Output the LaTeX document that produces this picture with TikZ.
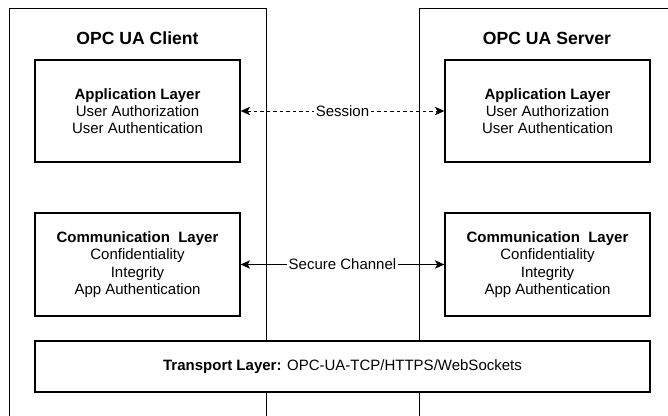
\documentclass[tikz,border=0pt]{standalone}
\usepackage{fontspec}
\setmainfont{Liberation Sans}
\usetikzlibrary{arrows.meta}

\tikzset{
  container/.style={draw=black, line width=0.9pt, anchor=north west, inner sep=0pt},
  layerbox/.style={draw=black, line width=1.3pt, fill=white, inner sep=0pt, align=center,
    font=\fontsize{15}{17.3}\selectfont},
  title/.style={font=\bfseries\fontsize{17.6}{20}\selectfont, inner sep=0pt},
  tip/.style={Stealth[length=9.5pt,width=8.5pt,inset=2.5pt]},
  link/.style={line width=1pt, {Stealth[length=9.5pt,width=8.5pt,inset=2.5pt]}-{Stealth[length=9.5pt,width=8.5pt,inset=2.5pt]}},
  linklabel/.style={fill=white, inner sep=1.5pt, font=\fontsize{15}{17}\selectfont},
}

\begin{document}
\begin{tikzpicture}[x=1pt, y=-1pt]
  \clip (0,0) rectangle (668,415);
  \fill[white] (0,0) rectangle (668,415);

  % outer client / server frames (they run past the lower edge)
  \node[container, minimum width=257pt, minimum height=440pt] (client) at (9,8) {};
  \node[container, minimum width=257pt, minimum height=440pt] (server) at (419,8) {};

  \node[title] (clienttitle) at (137.5,38.5) {OPC UA Client};
  \node[title] (servertitle) at (547,38.5) {OPC UA Server};

  % application layers
  \node[layerbox, minimum width=205pt, minimum height=102pt] (capp) at (137.5,111)
    {\textbf{Application Layer}\\User Authorization\\User Authentication};
  \node[layerbox, minimum width=205pt, minimum height=102pt] (sapp) at (547.5,111)
    {\textbf{Application Layer}\\User Authorization\\User Authentication};

  % communication layers
  \node[layerbox, minimum width=205pt, minimum height=103pt] (ccom) at (137.5,264.5)
    {\textbf{Communication\ \ Layer}\\Confidentiality\\Integrity\\App Authentication};
  \node[layerbox, minimum width=205pt, minimum height=103pt] (scom) at (547.5,264.5)
    {\textbf{Communication\ \ Layer}\\Confidentiality\\Integrity\\App Authentication};

  % shared transport layer
  \node[layerbox, minimum width=615pt, minimum height=51pt] (transport) at (342.5,366.5)
    {\textbf{Transport Layer:} OPC-UA-TCP/HTTPS/WebSockets};

  % connections between the peers
  \draw[link, dash pattern=on 3.5pt off 3pt] (capp) -- node[linklabel] (session) {Session} (sapp);
  \draw[link] (ccom) -- node[linklabel] (channel) {Secure Channel} (scom);
\end{tikzpicture}
\end{document}
